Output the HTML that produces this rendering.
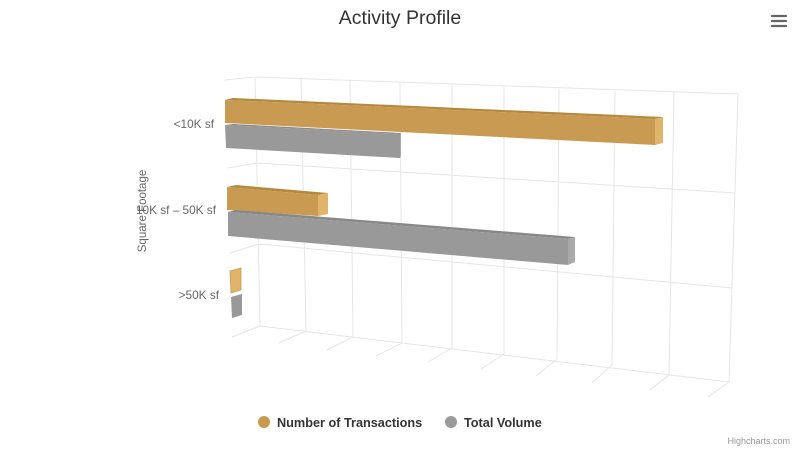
<!DOCTYPE html>
<html><head><meta charset="utf-8"><style>
html,body{margin:0;padding:0;background:#fff;}
svg{display:block;font-family:"Liberation Sans",sans-serif;}
</style></head><body>
<svg width="800" height="450" viewBox="0 0 800 450" xmlns="http://www.w3.org/2000/svg">
<rect width="800" height="450" fill="#fff"/>
<text x="400" y="24" text-anchor="middle" font-size="19.5" fill="#333">Activity Profile</text>
<g stroke="#666" stroke-width="2.2" stroke-linecap="round">
<line x1="772" y1="16" x2="786" y2="16"/><line x1="772" y1="21" x2="786" y2="21"/><line x1="772" y1="26" x2="786" y2="26"/>
</g>
<g stroke="#e6e6e6" stroke-width="1" fill="none">
<line x1="255" y1="77" x2="738" y2="94"/>
<line x1="257" y1="163" x2="735" y2="193"/>
<line x1="259" y1="244" x2="732" y2="288"/>
<line x1="260" y1="326" x2="729" y2="382"/>
<line x1="225" y1="80" x2="255" y2="77"/>
<line x1="228" y1="168" x2="257" y2="163"/>
<line x1="230" y1="253" x2="259" y2="244"/>
<line x1="232" y1="337" x2="260" y2="326"/>
<line x1="255" y1="77" x2="260" y2="326"/>
<line x1="301" y1="79" x2="306" y2="331"/>
<line x1="350" y1="81" x2="353" y2="337"/>
<line x1="400" y1="83" x2="402" y2="343"/>
<line x1="452" y1="85" x2="452" y2="348"/>
<line x1="504" y1="87" x2="504" y2="354"/>
<line x1="559" y1="89" x2="557" y2="359"/>
<line x1="615" y1="91" x2="612" y2="365"/>
<line x1="674" y1="92" x2="669" y2="375"/>
<line x1="738" y1="94" x2="729" y2="382"/>
<line x1="260" y1="326" x2="232" y2="337"/>
<line x1="306" y1="331" x2="279" y2="343"/>
<line x1="353" y1="337" x2="327" y2="350"/>
<line x1="402" y1="343" x2="376" y2="356"/>
<line x1="452" y1="348" x2="428" y2="362"/>
<line x1="504" y1="354" x2="481" y2="369"/>
<line x1="557" y1="359" x2="536" y2="376"/>
<line x1="612" y1="365" x2="592" y2="383"/>
<line x1="669" y1="375" x2="650" y2="390"/>
<line x1="729" y1="382" x2="708" y2="397"/>
</g>
<g>
<polygon points="225,100 233,98 663,117 655,119" fill="#b5893c"/>
<polygon points="225,100 655,119 655,145 225,123" fill="#c99b52"/>
<polygon points="655,119 663,117 663,143 655,145" fill="#e0b56b"/>

<polygon points="225,125 233,124 401,133 400,134" fill="#888"/>
<polygon points="225,125 400,134 400,158 226,148" fill="#999"/>
<polygon points="400,134 401,133 401,156 400,158" fill="#aaa"/>

<polygon points="227,187 236,185 328,193 318,195" fill="#b5893c"/>
<polygon points="227,187 318,195 318,216 227,210" fill="#c99b52"/>
<polygon points="318,195 328,193 328,214 318,216" fill="#e0b56b"/>

<polygon points="228,212 236,210 575,237 568,239" fill="#888"/>
<polygon points="228,212 568,239 568,265 228,236" fill="#999"/>
<polygon points="568,239 575,237 575,262 568,265" fill="#aaa"/>

<polygon points="230,271 241,268 241,290 231,293" fill="#e0b56b" stroke="#c99b52" stroke-width="0.8"/>
<polygon points="231,297 242,294 242,315 232,318" fill="#999"/>
</g>
<g font-size="11.8" fill="#666" text-anchor="end">
<text x="214" y="128">&lt;10K sf</text>
<text x="216" y="214">10K sf – 50K sf</text>
<text x="219" y="299">&gt;50K sf</text>
</g>
<text transform="translate(146,211) rotate(-90)" text-anchor="middle" font-size="11.5" fill="#666">Square Footage</text>
<circle cx="264" cy="422" r="6" fill="#c99b52"/>
<text x="277" y="427" font-size="12.7" font-weight="bold" fill="#333">Number of Transactions</text>
<circle cx="451" cy="422" r="6" fill="#999"/>
<text x="464" y="427" font-size="12.7" font-weight="bold" fill="#333">Total Volume</text>
<text x="790" y="444" text-anchor="end" font-size="9" fill="#999">Highcharts.com</text>
</svg>
</body></html>
